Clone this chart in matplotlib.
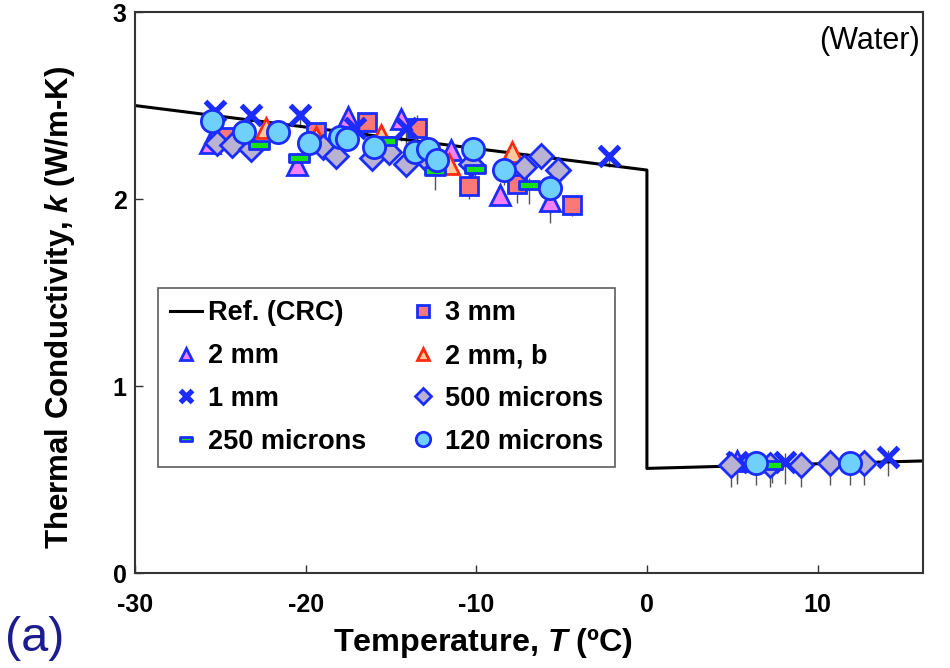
import matplotlib
matplotlib.use("Agg")
import matplotlib.pyplot as plt
from matplotlib.path import Path
import numpy as np

plt.rcParams['font.family'] = ['Liberation Sans', 'DejaVu Sans']
plt.rcParams['axes.unicode_minus'] = False
plt.rcParams['mathtext.fontset'] = 'custom'
plt.rcParams['mathtext.bfit'] = 'Liberation Sans:bold:italic'

# Reference (CRC) curve
ref_T = [-30, 0, 0, 16.2]
ref_k = [2.50, 2.155, 0.56, 0.60]

# 3 mm
t3mm = [-24.6, -19.4, -16.4, -13.5, -10.4, -7.6, -4.4]
k3mm = [2.33, 2.36, 2.41, 2.38, 2.07, 2.08, 1.97]
e3mm = [0.05, 0.06, 0.08, 0.18, 0.07, 0.10, 0.06]

# 2 mm
t2mm = [-25.6, -20.5, -17.5, -14.4, -11.5, -8.6, -5.7, 5.3]
k2mm = [2.30, 2.18, 2.44, 2.43, 2.26, 2.02, 1.99, 0.60]
e2mm = [0.05, 0.05, 0.05, 0.12, 0.05, 0.05, 0.12, 0.10]

# 2 mm, b
t2mmb = [-22.3, -19.4, -15.6, -11.6, -7.9]
k2mmb = [2.38, 2.33, 2.34, 2.19, 2.25]
e2mmb = [0.04, 0.04, 0.04, 0.04, 0.04]

# 1 mm
t1mm = [-25.3, -23.2, -20.3, -17.1, -14.1, -2.2, 5.3, 8.1, 14.1]
k1mm = [2.47, 2.45, 2.45, 2.38, 2.38, 2.23, 0.595, 0.595, 0.62]
e1mm = [0.05, 0.05, 0.06, 0.06, 0.10, 0.06, 0.12, 0.12, 0.10]

# 500 microns
t500 = [-25.2, -24.3, -23.2, -19.0, -18.2, -16.1, -15.1, -14.1, -12.9, -10.3,
        -7.2, -6.2, -5.2, 4.9, 7.2, 9.0, 10.7, 12.7]
k500 = [2.30, 2.29, 2.27, 2.28, 2.23, 2.22, 2.25, 2.19, 2.21, 2.19,
        2.17, 2.23, 2.155, 0.58, 0.58, 0.58, 0.59, 0.59]
e500 = [0.05, 0.05, 0.05, 0.05, 0.05, 0.05, 0.05, 0.05, 0.05, 0.05,
        0.08, 0.05, 0.05, 0.12, 0.12, 0.12, 0.12, 0.12]

# 250 microns
t250 = [-22.7, -20.4, -15.3, -12.4, -10.1, -6.9, 7.3]
k250 = [2.29, 2.22, 2.31, 2.15, 2.16, 2.075, 0.58]
e250 = [0.05, 0.06, 0.05, 0.10, 0.05, 0.10, 0.10]

# 120 microns
t120 = [-25.5, -23.6, -21.6, -19.8, -18.0, -17.6, -16.0, -13.6, -12.8, -12.3,
        -10.2, -8.4, -5.7, 6.4, 11.9]
k120 = [2.42, 2.36, 2.36, 2.30, 2.33, 2.32, 2.28, 2.25, 2.27, 2.21,
        2.27, 2.155, 2.06, 0.59, 0.59]
e120 = [0.05, 0.05, 0.05, 0.05, 0.05, 0.05, 0.05, 0.05, 0.05, 0.05,
        0.05, 0.08, 0.14, 0.12, 0.12]

xticks = [-30, -20, -10, 0, 10]
yticks = [0, 1, 2, 3]

EDGE = '#1a2cff'
bar_marker = Path([(-1, -0.38), (1, -0.38), (1, 0.38), (-1, 0.38), (-1, -0.38)],
                  [Path.MOVETO, Path.LINETO, Path.LINETO, Path.LINETO, Path.CLOSEPOLY])

fig = plt.figure(figsize=(9.5, 6.68), dpi=100)
ax = fig.add_axes([0.142, 0.142, 0.830, 0.840])

ref_line, = ax.plot(ref_T, ref_k, color='black', lw=2.2, zorder=2)

def series(t, k, e, marker, ms, face, edge, mew):
    lower = np.array(e)
    upper = np.array(e) * 0.4
    ax.errorbar(t, k, yerr=[lower, upper], fmt='none', ecolor='#555555',
                elinewidth=1.0, capsize=0, zorder=1)
    h, = ax.plot(t, k, linestyle='none', marker=marker, ms=ms, mfc=face,
                 mec=edge, mew=mew, zorder=3)
    return h

h3 = series(t3mm, k3mm, e3mm, 's', 13, '#fa7878', EDGE, 2.0)
h2 = series(t2mm, k2mm, e2mm, '^', 14, '#f77ff7', EDGE, 2.0)
h2b = series(t2mmb, k2mmb, e2mmb, '^', 14, '#ffc99a', '#ff2a10', 2.0)
h1 = series(t1mm, k1mm, e1mm, 'x', 14, EDGE, EDGE, 3.8)
h500 = series(t500, k500, e500, 'D', 12, '#b9b2d2', EDGE, 2.0)
h250 = series(t250, k250, e250, bar_marker, 14, '#16e016', EDGE, 2.0)
h120 = series(t120, k120, e120, 'o', 16, '#6fd0fb', EDGE, 2.0)

ax.set_xlim(-30, 16.2)
ax.set_ylim(0, 3)
ax.set_xticks(xticks)
ax.set_yticks(yticks)
ax.tick_params(direction='in', length=6, width=1, colors='#333333',
               labelcolor='black', labelsize=18)
ax.tick_params(axis='x', pad=14)
ax.tick_params(axis='y', pad=6)
for lab in ax.get_xticklabels() + ax.get_yticklabels():
    lab.set_fontweight('bold')
for sp in ax.spines.values():
    sp.set_color('#333333')
    sp.set_linewidth(1.5)

ax.set_xlabel(r'Temperature, $\boldsymbol{T}$ (ºC)', fontsize=23.3, fontweight='bold')
ax.xaxis.set_label_coords(0.442, -0.095, transform=ax.transAxes)
ax.set_ylabel('Thermal Conductivity, $\\boldsymbol{k}$ (W/m-K)', fontsize=22.5,
              fontweight='bold')
ax.yaxis.set_label_coords(-0.074, 0.474, transform=ax.transAxes)

ax.text(0.995, 0.975, '(Water)', transform=ax.transAxes, ha='right', va='top',
        fontsize=22, color='black')
fig.text(0.005, 0.01, '(a)', fontsize=35, color='#1c1c8f', ha='left', va='bottom')

handles = [ref_line, h2, h1, h250, h3, h2b, h500, h120]
labels = ['Ref. (CRC)', '2 mm', '1 mm', '250 microns', '3 mm', '2 mm, b',
          '500 microns', '120 microns']
leg = ax.legend(handles, labels, ncol=2, loc='upper left',
                bbox_to_anchor=(0.029, 0.508), borderaxespad=0,
                prop={'weight': 'bold', 'size': 19.5},
                frameon=True, fancybox=False, edgecolor='#333333',
                handlelength=1.2, handletextpad=0.2, columnspacing=1.5,
                labelspacing=0.62, borderpad=0.45, markerscale=0.65)
leg.get_frame().set_linewidth(1.2)

fig.savefig('out.png', dpi=100)
